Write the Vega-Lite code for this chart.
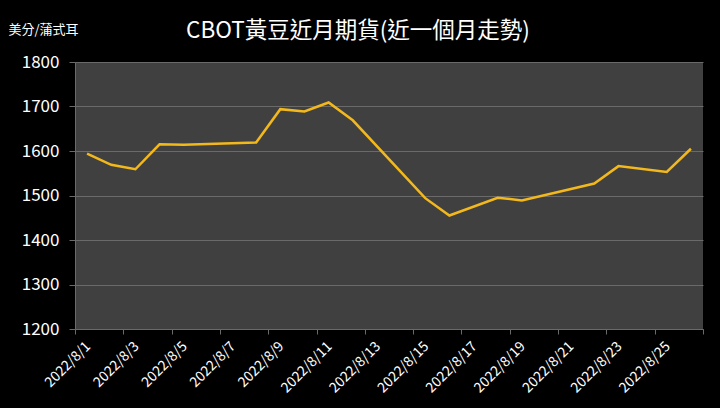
{
  "$schema": "https://vega.github.io/schema/vega-lite/v6.json",
  "autosize": {"type": "none"},
  "width": 628,
  "height": 267,
  "padding": {"left": 75, "top": 62, "right": 17, "bottom": 79},
  "background": "#000000",
  "title": {
    "text": "CBOT黃豆近月期貨(近一個月走勢)",
    "anchor": "middle",
    "dx": -31,
    "offset": -19,
    "font": "Noto Sans CJK TC",
    "fontSize": 22.5,
    "fontWeight": "normal",
    "color": "#ffffff"
  },
  "data": {
    "values": [
      {"date": "2022-08-01", "price": 1594},
      {"date": "2022-08-02", "price": 1569},
      {"date": "2022-08-03", "price": 1559},
      {"date": "2022-08-04", "price": 1615},
      {"date": "2022-08-05", "price": 1614},
      {"date": "2022-08-08", "price": 1619},
      {"date": "2022-08-09", "price": 1694},
      {"date": "2022-08-10", "price": 1689},
      {"date": "2022-08-11", "price": 1709},
      {"date": "2022-08-12", "price": 1669},
      {"date": "2022-08-15", "price": 1494},
      {"date": "2022-08-16", "price": 1455},
      {"date": "2022-08-18", "price": 1495},
      {"date": "2022-08-19", "price": 1489},
      {"date": "2022-08-22", "price": 1527},
      {"date": "2022-08-23", "price": 1566},
      {"date": "2022-08-25", "price": 1553},
      {"date": "2022-08-26", "price": 1605}
    ],
    "format": {"parse": {"date": "utc:'%Y-%m-%d'"}}
  },
  "mark": {"type": "line", "color": "#f2b81c", "strokeWidth": 2.5},
  "encoding": {
    "x": {
      "field": "date",
      "type": "temporal",
      "title": null,
      "scale": {"type": "utc", "domain": [1659268800000, 1661515200000]},
      "axis": {
        "values": [1659268800000, 1659441600000, 1659614400000, 1659787200000, 1659960000000, 1660132800000, 1660305600000, 1660478400000, 1660651200000, 1660824000000, 1660996800000, 1661169600000, 1661342400000, 1661515200000],
        "labelExpr": "time(datum.value) > 1661500000000 ? '' : utcFormat(time(datum.value) + 43200000, '%Y/%-m/%-d')",
        "labelOffset": 13,
        "labelAngle": -45,
        "labelAlign": "right",
        "labelBaseline": "middle",
        "labelPadding": 10,
        "labelFont": "Noto Sans CJK TC",
        "labelFontSize": 14,
        "labelColor": "#ffffff",
        "labelOverlap": false,
        "grid": false,
        "domainColor": "#6a6a6a",
        "tickColor": "#6a6a6a",
        "tickSize": 5
      }
    },
    "y": {
      "field": "price",
      "type": "quantitative",
      "scale": {"domain": [1200, 1800]},
      "title": "美分/蒲式耳",
      "axis": {
        "values": [1200, 1300, 1400, 1500, 1600, 1700, 1800],
        "format": "d",
        "titleAngle": 0,
        "titleX": -67,
        "titleY": -33,
        "titleAlign": "left",
        "titleBaseline": "middle",
        "titleFont": "Noto Sans CJK TC",
        "titleFontSize": 13,
        "titleFontWeight": "normal",
        "titleColor": "#ffffff",
        "labelFont": "Noto Sans CJK TC",
        "labelFontSize": 17,
        "labelColor": "#ffffff",
        "labelPadding": 10,
        "gridColor": "#6a6a6a",
        "gridWidth": 1,
        "domainColor": "#6a6a6a",
        "tickColor": "#6a6a6a",
        "tickSize": 6
      }
    }
  },
  "config": {
    "view": {"fill": "#404040", "stroke": null}
  }
}
